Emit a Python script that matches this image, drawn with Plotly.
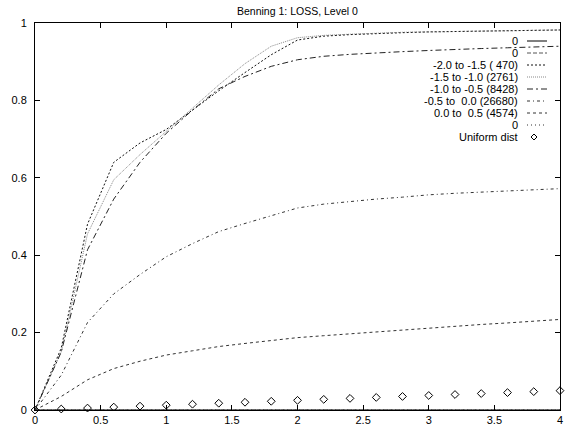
import plotly.graph_objects as go

x_vals = [0.0, 0.2, 0.4, 0.6, 0.8, 1.0, 1.2, 1.4, 1.6, 1.8, 2.0,
          2.2, 2.4, 2.6, 2.8, 3.0, 3.2, 3.4, 3.6, 3.8, 4.0]

zero_vals = [0.0] * 21
s_m20_m15 = [0, 0.16, 0.48, 0.64, 0.69, 0.725, 0.775, 0.825, 0.872, 0.918, 0.956,
             0.966, 0.970, 0.973, 0.975, 0.977, 0.978, 0.979, 0.980, 0.981, 0.982]
s_m15_m10 = [0, 0.15, 0.455, 0.595, 0.66, 0.72, 0.78, 0.84, 0.895, 0.94, 0.962,
             0.968, 0.971, 0.974, 0.976, 0.977, 0.978, 0.979, 0.980, 0.981, 0.982]
s_m10_m05 = [0, 0.15, 0.414, 0.545, 0.64, 0.715, 0.775, 0.83, 0.862, 0.888, 0.905,
             0.914, 0.919, 0.923, 0.926, 0.929, 0.932, 0.934, 0.936, 0.938, 0.940]
s_m05_00 = [0, 0.09, 0.226, 0.30, 0.35, 0.396, 0.43, 0.461, 0.482, 0.502, 0.522,
            0.532, 0.539, 0.545, 0.550, 0.556, 0.560, 0.563, 0.566, 0.569, 0.572]
s_00_05 = [0, 0.035, 0.078, 0.107, 0.126, 0.142, 0.153, 0.164, 0.172, 0.180, 0.187,
           0.192, 0.197, 0.202, 0.207, 0.212, 0.216, 0.221, 0.225, 0.230, 0.234]
uniform_vals = [0, 0.0025, 0.005, 0.0075, 0.01, 0.0125, 0.015, 0.0175, 0.02, 0.0225, 0.025,
                0.0275, 0.03, 0.0325, 0.035, 0.0375, 0.04, 0.0425, 0.045, 0.0475, 0.05]

legend_labels = ["0", "0", "-2.0 to -1.5 ( 470)", "-1.5 to -1.0 (2761)",
                 "-1.0 to -0.5 (8428)", "-0.5 to  0.0 (26680)", "0.0 to  0.5 (4574)",
                 "0", "Uniform dist"]

x_ticks = [0, 0.5, 1, 1.5, 2, 2.5, 3, 3.5, 4]
x_tick_text = ["0", "0.5", "1", "1.5", "2", "2.5", "3", "3.5", "4"]
y_ticks = [0, 0.2, 0.4, 0.6, 0.8, 1]
y_tick_text = ["0", "0.2", "0.4", "0.6", "0.8", "1"]

series = [zero_vals, zero_vals, s_m20_m15, s_m15_m10, s_m10_m05, s_m05_00, s_00_05, zero_vals]
styles = [
    dict(color="#000000", dash="solid"),
    dict(color="#555555", dash="4px,2px"),
    dict(color="#111111", dash="2px,2px"),
    dict(color="#888888", dash="1px,1px"),
    dict(color="#222222", dash="6px,3px,2px,3px"),
    dict(color="#333333", dash="3px,3px,1px,3px"),
    dict(color="#333333", dash="3px,3px"),
    dict(color="#333333", dash="1px,3px"),
]

fig = go.Figure()
for ys, st, name in zip(series, styles, legend_labels):
    fig.add_trace(go.Scatter(x=x_vals, y=ys, mode="lines", name=name,
                             line=dict(width=1, **st), showlegend=False))
fig.add_trace(go.Scatter(x=x_vals, y=uniform_vals, mode="markers", name="Uniform dist",
                         marker=dict(symbol="diamond-open", size=6, color="black",
                                     line=dict(width=1)),
                         showlegend=False, cliponaxis=False))

W, H = 568, 427
# plot area in window pixels
L, R, T, B = 35, 560, 23, 410


def px_x(px):
    return (px - L) / (R - L)


def px_y(py):
    return (B - py) / (B - T)


shapes = []
annotations = []
row0, pitch = 41, 12
for i, lab in enumerate(legend_labels):
    py = row0 + i * pitch
    annotations.append(dict(x=px_x(519), y=px_y(py), xref="paper", yref="paper",
                            text=lab.replace("  ", "\u00a0 "), showarrow=False,
                            xanchor="right", yanchor="middle", borderpad=0,
                            font=dict(size=11, color="black")))
    if i < len(styles):
        st = styles[i]
        shapes.append(dict(type="line", xref="paper", yref="paper",
                           x0=px_x(527), x1=px_x(547), y0=px_y(py), y1=px_y(py),
                           line=dict(width=1, color=st["color"], dash=st["dash"])))
    else:
        cx, cy, r = 534, py, 3
        path = (f"M {px_x(cx)} {px_y(cy - r)} L {px_x(cx + r)} {px_y(cy)} "
                f"L {px_x(cx)} {px_y(cy + r)} L {px_x(cx - r)} {px_y(cy)} Z")
        shapes.append(dict(type="path", xref="paper", yref="paper", path=path,
                           line=dict(width=1, color="black")))

annotations.append(dict(x=0.5, y=px_y(11), xref="paper", yref="paper",
                        text="Benning 1: LOSS, Level 0", showarrow=False,
                        xanchor="center", yanchor="middle",
                        font=dict(size=10.5, color="black")))

axis_common = dict(showline=True, linecolor="black", linewidth=1, mirror="ticks",
                   ticks="inside", ticklen=5, tickcolor="black", showgrid=False,
                   zeroline=False, tickfont=dict(size=11, color="black"),
                   ticklabeloverflow="allow", automargin=False)

fig.update_layout(
    width=W, height=H,
    margin=dict(l=L, r=W - R, t=T, b=H - B, pad=0, autoexpand=False),
    paper_bgcolor="white", plot_bgcolor="white",
    font=dict(family="Liberation Sans, Arial, sans-serif", size=11, color="black"),
    xaxis=dict(range=[0, 4], tickvals=x_ticks, ticktext=x_tick_text, **axis_common),
    yaxis=dict(range=[0, 1], tickvals=y_ticks, ticktext=y_tick_text,
               ticklabelstandoff=5, **axis_common),
    shapes=shapes,
    annotations=annotations,
    showlegend=False,
)

fig.write_html(
    "out.html",
    config={"displayModeBar": False},
    post_script="document.body.style.margin='0';document.body.style.overflow='hidden';",
)
